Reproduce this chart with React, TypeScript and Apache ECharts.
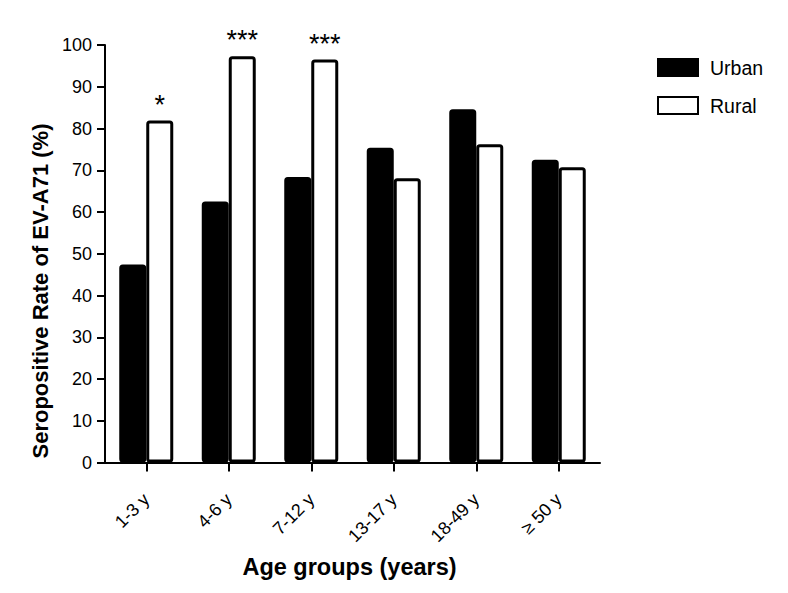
import React, { useEffect, useRef } from "react";
import * as echarts from "echarts";

const categories = ["1-3 y", "4-6 y", "7-12 y", "13-17 y", "18-49 y", "≥ 50 y"];
const urban = [47.4, 62.5, 68.4, 75.4, 84.6, 72.5];
const rural = [81.9, 97.3, 96.5, 68.1, 76.2, 70.7];
const significance = ["*", "***", "***", "", "", ""];
const yTicks = { min: 0, max: 100, interval: 10 };

const FONT = "'Liberation Sans', Arial, sans-serif";

export default function App() {
  const ref = useRef<HTMLDivElement>(null);
  useEffect(() => {
    if (!ref.current) return;
    const chart = echarts.init(ref.current, undefined, { renderer: "svg" });
    const marks = significance
      .map((s, i) => (s ? { name: s, coord: [i, rural[i]] } : null))
      .filter(Boolean);
    chart.setOption({
      animation: false,
      backgroundColor: "#fff",
      textStyle: { fontFamily: FONT, color: "#000" },
      grid: { left: 105, right: 188, top: 45, bottom: 130.5, containLabel: false },
      legend: {
        orient: "vertical",
        left: 652,
        top: 52.5,
        itemWidth: 40,
        itemHeight: 17,
        itemGap: 18,
        icon: "rect",
        data: ["Urban", "Rural"],
        textStyle: { fontFamily: FONT, fontSize: 19.5, color: "#000", padding: [0, 0, 0, 7] },
      },
      xAxis: {
        type: "category",
        data: categories,
        axisLine: { show: true, lineStyle: { color: "#000", width: 2 } },
        axisTick: { show: true, alignWithLabel: true, length: 9, lineStyle: { color: "#000", width: 2 } },
        axisLabel: { rotate: 45, fontSize: 18, color: "#000", margin: 34, fontFamily: FONT },
        splitLine: { show: false },
      },
      yAxis: {
        type: "value",
        min: yTicks.min,
        max: yTicks.max,
        interval: yTicks.interval,
        axisLine: { show: true, lineStyle: { color: "#000", width: 2 } },
        axisTick: { show: true, length: 8, lineStyle: { color: "#000", width: 2 } },
        axisLabel: { fontSize: 18, color: "#000", margin: 13, fontFamily: FONT },
        splitLine: { show: false },
      },
      series: [
        {
          name: "Urban",
          type: "bar",
          data: urban,
          barWidth: 27,
          barGap: "0%",
          itemStyle: { color: "#000", borderColor: "#000", borderWidth: 3, borderRadius: 2 },
        },
        {
          name: "Rural",
          type: "bar",
          data: rural,
          barWidth: 27,
          barGap: "0%",
          itemStyle: { color: "#fff", borderColor: "#000", borderWidth: 3, borderRadius: 2 },
          markPoint: {
            symbol: "circle",
            symbolSize: 0,
            itemStyle: { color: "transparent" },
            label: {
              show: true,
              position: "inside",
              formatter: "{b}",
              fontSize: 27,
              color: "#000",
              fontFamily: FONT,
              offset: [0, -16],
            },
            data: marks,
          },
        },
      ],
      graphic: [
        {
          type: "text",
          x: 40,
          y: 291,
          rotation: Math.PI / 2,
          style: {
            text: "Seropositive Rate of EV-A71 (%)",
            font: `bold 22px ${FONT}`,
            fill: "#000",
            align: "center",
            verticalAlign: "middle",
          },
        },
        {
          type: "text",
          x: 349.5,
          y: 567,
          style: {
            text: "Age groups (years)",
            font: `bold 23.5px ${FONT}`,
            fill: "#000",
            align: "center",
            verticalAlign: "middle",
          },
        },
      ],
    });
    return () => chart.dispose();
  }, []);
  return (
    <div
      ref={ref}
      style={{ position: "fixed", left: 0, top: 0, width: 788, height: 593, background: "#fff" }}
    />
  );
}
